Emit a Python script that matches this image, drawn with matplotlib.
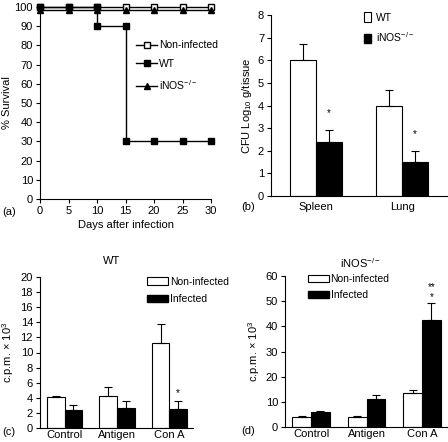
import matplotlib
matplotlib.use('Agg')
import matplotlib.pyplot as plt
import numpy as np
from matplotlib.lines import Line2D
from matplotlib.patches import Patch

plt.rcParams['font.family'] = ['Liberation Sans', 'DejaVu Sans']
plt.rcParams['mathtext.default'] = 'regular'
plt.rcParams['font.size'] = 8

# (a) survival
days = [0, 5, 10, 15, 20, 25, 30]
surv_noninf = [100, 100, 100, 100, 100, 100, 100]
surv_inos = [98.5, 98.5, 98.5, 98.5, 98.5, 98.5, 98.5]
wt_days = [0, 5, 10, 10, 15, 15, 20, 25, 30]
surv_wt = [100, 100, 100, 90, 90, 30, 30, 30, 30]

# (b) CFU
organs = ['Spleen', 'Lung']
cfu_wt = [6.0, 4.0]
cfu_wt_err = [0.7, 0.7]
cfu_inos = [2.4, 1.5]
cfu_inos_err = [0.5, 0.5]

# (c) WT proliferation
stim = ['Control', 'Antigen', 'Con A']
wt_non = [4.1, 4.3, 11.3]
wt_non_err = [0.2, 1.1, 2.5]
wt_inf = [2.4, 2.7, 2.5]
wt_inf_err = [0.6, 0.9, 1.1]

# (d) iNOS-/- proliferation
ko_non = [4.0, 4.0, 13.5]
ko_non_err = [0.3, 0.2, 1.2]
ko_inf = [6.0, 11.2, 42.7]
ko_inf_err = [0.4, 1.6, 6.5]

W, H = 448, 442
fig = plt.figure(figsize=(W / 100, H / 100), dpi=100)


def box(l, t, r, b):
    return [l / W, 1 - b / H, (r - l) / W, (b - t) / H]


def style(ax):
    for s in ['top', 'right']:
        ax.spines[s].set_visible(False)
    for s in ['left', 'bottom']:
        ax.spines[s].set_linewidth(0.8)
    ax.tick_params(direction='out', length=3, width=0.8, labelsize=8, pad=2)


# ---- (a)
ax = fig.add_axes(box(40, 7, 211, 199))
style(ax)
ax.plot(days, surv_noninf, '-', color='black', lw=1, marker='s', ms=4,
        mfc='white', mec='black', clip_on=False, zorder=3)
ax.plot(days, surv_inos, '-', color='black', lw=1, marker='^', ms=4.5,
        clip_on=False, zorder=4)
ax.plot(wt_days, surv_wt, '-', color='black', lw=1, marker='s', ms=4,
        clip_on=False, zorder=5)
ax.set_xlim(0, 30)
ax.set_ylim(0, 100)
ax.set_xticks(range(0, 31, 5))
ax.set_yticks(range(0, 101, 10))
ax.set_xlabel('Days after infection', fontsize=8, labelpad=3)
ax.set_ylabel('% Survival', fontsize=8, labelpad=2)
handles = [
    Line2D([], [], color='black', lw=1, marker='s', ms=4, mfc='white'),
    Line2D([], [], color='black', lw=1, marker='s', ms=4),
    Line2D([], [], color='black', lw=1, marker='^', ms=4.5),
]
ax.legend(handles, ['Non-infected', 'WT', 'iNOS$^{-/-}$'], frameon=False,
          loc='upper left', bbox_to_anchor=(0.52, 0.865), fontsize=7.5,
          handlelength=2.0, handletextpad=0.2, labelspacing=0.85,
          borderaxespad=0.3)
fig.text(2 / W, 1 - 212 / H, '(a)', fontsize=8, va='center')

# ---- (b)
ax = fig.add_axes(box(271, 15, 447, 196))
style(ax)
x = np.arange(len(organs))
bw = 0.3
ax.bar(x - bw / 2, cfu_wt, bw, color='white', edgecolor='black', lw=0.8)
ax.bar(x + bw / 2, cfu_inos, bw, color='black', edgecolor='black', lw=0.8)
ax.errorbar(x - bw / 2, cfu_wt, yerr=[np.zeros(2), cfu_wt_err], fmt='none',
            ecolor='black', elinewidth=0.8, capsize=3, capthick=0.8)
ax.errorbar(x + bw / 2, cfu_inos, yerr=[np.zeros(2), cfu_inos_err], fmt='none',
            ecolor='black', elinewidth=0.8, capsize=3, capthick=0.8)
for i in range(len(organs)):
    ax.text(x[i] + bw / 2, cfu_inos[i] + cfu_inos_err[i] + 0.75, '*',
            ha='center', va='center', fontsize=7)
ax.set_xlim(-0.52, 1.52)
ax.set_ylim(0, 8)
ax.set_xticks(x)
ax.set_xticklabels(organs)
ax.tick_params(axis='x', length=0, pad=4)
ax.set_ylabel('CFU Log$_{10}$ g/tissue', fontsize=8, labelpad=3)
ax.legend([Patch(facecolor='white', edgecolor='black', lw=0.8),
           Patch(facecolor='black', edgecolor='black')],
          ['WT', 'iNOS$^{-/-}$'], frameon=False, loc='upper left',
          bbox_to_anchor=(0.488, 1.055), fontsize=7.5, handlelength=0.7,
          handleheight=1.0, handletextpad=0.4, labelspacing=0.75,
          borderaxespad=0.3)
fig.text(241 / W, 1 - 207 / H, '(b)', fontsize=8, va='center')


def prolif(ax, non, non_err, inf, inf_err, ymax, step):
    style(ax)
    x = np.arange(len(stim))
    bw = 0.335
    ax.bar(x - bw / 2, non, bw, color='white', edgecolor='black', lw=0.8)
    ax.bar(x + bw / 2, inf, bw, color='black', edgecolor='black', lw=0.8)
    ax.errorbar(x - bw / 2, non, yerr=[np.zeros(3), non_err], fmt='none',
                ecolor='black', elinewidth=0.8, capsize=3, capthick=0.8)
    ax.errorbar(x + bw / 2, inf, yerr=[np.zeros(3), inf_err], fmt='none',
                ecolor='black', elinewidth=0.8, capsize=3, capthick=0.8)
    ax.set_xlim(-0.47, 2.45)
    ax.set_ylim(0, ymax)
    ax.set_yticks(np.arange(0, ymax + 1, step))
    ax.set_xticks(x)
    ax.set_xticklabels(stim)
    ax.tick_params(axis='x', length=0, pad=1.5)
    ax.set_ylabel(r'c.p.m. $\times$ 10$^3$', fontsize=8, labelpad=3)
    return x, bw


# ---- (c)
ax = fig.add_axes(box(40, 277, 193, 428))
x, bw = prolif(ax, wt_non, wt_non_err, wt_inf, wt_inf_err, 20, 2)
ax.text(x[2] + bw / 2, wt_inf[2] + wt_inf_err[2] + 1.0, '*', ha='center',
        va='center', fontsize=7)
ax.legend([Patch(facecolor='white', edgecolor='black', lw=0.8),
           Patch(facecolor='black', edgecolor='black')],
          ['Non-infected', 'Infected'], frameon=False, loc='upper left',
          bbox_to_anchor=(0.65, 1.05), fontsize=7.5, handlelength=2.0,
          handleheight=0.7, handletextpad=0.2, labelspacing=0.7,
          borderaxespad=0.3)
fig.text(112 / W, 1 - 261 / H, 'WT', fontsize=8, ha='center', va='center')
fig.text(2 / W, 1 - 432 / H, '(c)', fontsize=8, va='center')

# ---- (d)
ax = fig.add_axes(box(285, 276, 447, 427))
x, bw = prolif(ax, ko_non, ko_non_err, ko_inf, ko_inf_err, 60, 10)
top = ko_inf[2] + ko_inf_err[2]
ax.text(x[2] + bw / 2, top + 2.5, '*', ha='center', va='center', fontsize=7)
ax.text(x[2] + bw / 2, top + 6.5, '**', ha='center', va='center', fontsize=7)
ax.legend([Patch(facecolor='white', edgecolor='black', lw=0.8),
           Patch(facecolor='black', edgecolor='black')],
          ['Non-infected', 'Infected'], frameon=False, loc='upper left',
          bbox_to_anchor=(0.095, 1.06), fontsize=7.5, handlelength=2.0,
          handleheight=0.7, handletextpad=0.2, labelspacing=0.6,
          borderaxespad=0.3)
fig.text(361 / W, 1 - 263 / H, 'iNOS$^{-/-}$', fontsize=8, ha='center',
         va='center')
fig.text(241 / W, 1 - 431 / H, '(d)', fontsize=8, va='center')

fig.savefig('out.png', dpi=100)
